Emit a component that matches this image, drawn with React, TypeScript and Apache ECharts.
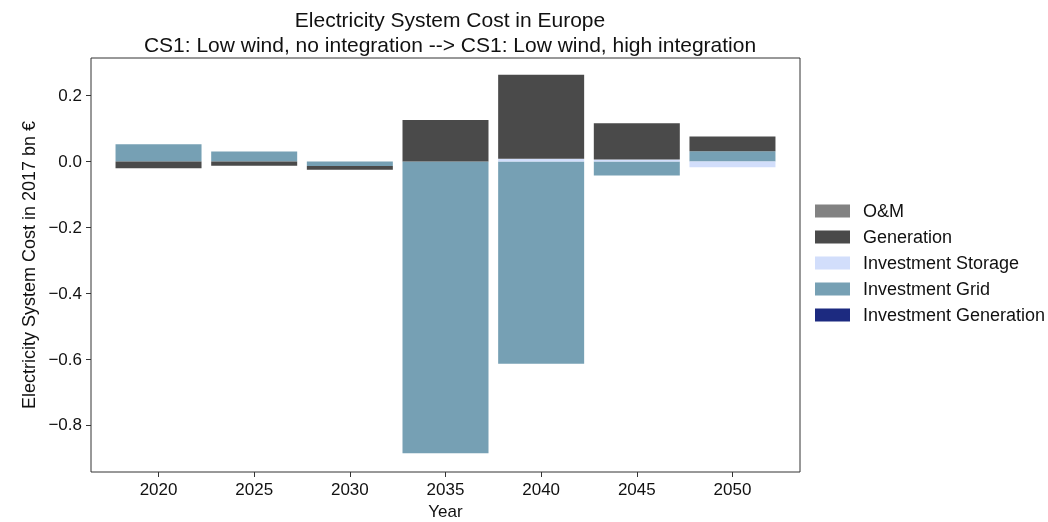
import React, { useEffect, useRef } from "react";
import * as echarts from "echarts";

const years = ["2020", "2025", "2030", "2035", "2040", "2045", "2050"];
const investmentGeneration = [0, 0, 0, 0, 0, 0, 0];
const investmentGrid = [0.052, 0.03, -0.014, -0.886, -0.614, -0.043, 0.031];
const investmentStorage = [0, 0, 0, 0, 0.008, 0.006, -0.018];
const generation = [-0.021, -0.013, -0.011, 0.126, 0.255, 0.11, 0.045];
const oAndM = [0, 0, 0, 0, 0, 0, 0];
const yTicks = [-0.8, -0.6, -0.4, -0.2, 0.0, 0.2];

const FONT = "'Liberation Sans', Arial, sans-serif";

export default function App() {
  const ref = useRef<HTMLDivElement>(null);
  useEffect(() => {
    if (!ref.current) return;
    const chart = echarts.init(ref.current, undefined, { renderer: "svg" });
    const xIdx = years.map((_, i) => i);
    const mk = (name: string, vals: number[], color: string) => ({
      name,
      type: "bar",
      stack: "total",
      barWidth: 86,
      itemStyle: { color },
      encode: { x: 1, y: 0 },
      data: vals.map((v, i) => [v, i]),
    });
    chart.setOption({
      animation: false,
      textStyle: { fontFamily: FONT },
      title: {
        text: "Electricity System Cost in Europe\nCS1: Low wind, no integration --> CS1: Low wind, high integration",
        left: 445,
        textAlign: "center",
        top: 2,
        textStyle: { fontSize: 21, fontWeight: "normal", color: "#111", lineHeight: 25, fontFamily: FONT },
      },
      legend: {
        orient: "vertical",
        left: 810,
        top: 197,
        icon: "rect",
        itemWidth: 35,
        itemHeight: 13,
        itemGap: 8,
        textStyle: { fontSize: 18, color: "#111", fontFamily: FONT, padding: [0, 0, 0, 8] },
        data: ["O&M", "Generation", "Investment Storage", "Investment Grid", "Investment Generation"],
      },
      grid: { left: 91, right: 248, top: 58, bottom: 50, show: true, borderColor: "#333", borderWidth: 1, outerBoundsMode: "none" },
      xAxis: {
        type: "value",
        min: -0.706,
        max: 6.706,
        name: "Year",
        nameLocation: "middle",
        nameGap: 29,
        nameTextStyle: { fontSize: 17, color: "#111", fontFamily: FONT },
        axisLine: { show: false, onZero: false },
        splitLine: { show: false },
        axisTick: { show: true, length: 5, lineStyle: { color: "#333" }, customValues: xIdx },
        axisLabel: {
          customValues: xIdx,
          fontSize: 17,
          color: "#111",
          margin: 9,
          formatter: (v: number) => years[Math.round(v)] ?? "",
        },
      },
      yAxis: {
        type: "value",
        min: -0.943,
        max: 0.314,
        name: "Electricity System Cost in 2017 bn €",
        nameLocation: "middle",
        nameGap: 37,
        nameTextStyle: { fontSize: 18, color: "#111", fontFamily: FONT },
        axisLine: { show: false, onZero: false },
        splitLine: { show: false },
        axisTick: { show: true, length: 5, lineStyle: { color: "#333" }, customValues: yTicks },
        axisLabel: {
          customValues: yTicks,
          fontSize: 17,
          color: "#111",
          margin: 9,
          formatter: (v: number) => v.toFixed(1).replace("-", "\u2212"),
        },
      },
      series: [
        mk("Investment Generation", investmentGeneration, "#1c2a80"),
        mk("Investment Grid", investmentGrid, "#76a0b4"),
        mk("Investment Storage", investmentStorage, "#d2defb"),
        mk("Generation", generation, "#4a4a4a"),
        mk("O&M", oAndM, "#828282"),
      ],
    });
    return () => chart.dispose();
  }, []);
  return <div ref={ref} style={{ position: "fixed", left: 0, top: 0, width: 1048, height: 522 }} />;
}
